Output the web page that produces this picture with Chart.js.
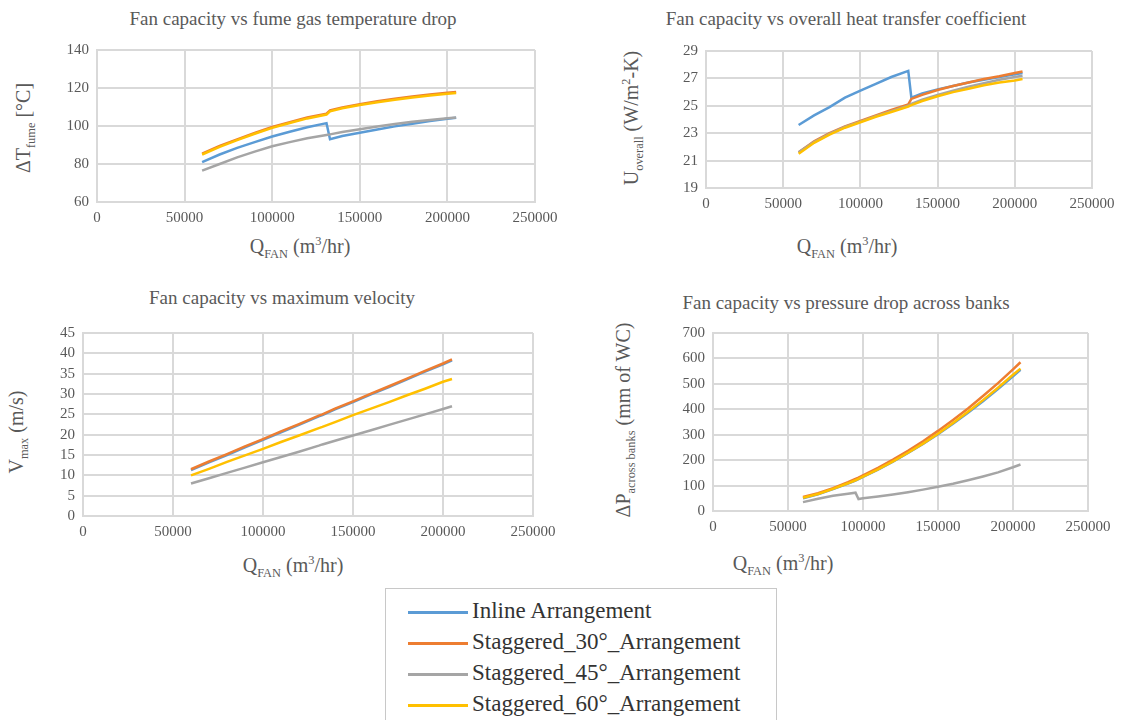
<!DOCTYPE html>
<html>
<head>
<meta charset="utf-8">
<title>Fan capacity charts</title>
<script src="https://cdn.jsdelivr.net/npm/chart.js@4.4.0/dist/chart.umd.min.js"></script>
<style>
    body { margin: 0; width: 1129px; height: 720px; position: relative; overflow: hidden; background: #fff;
           font-family: 'Liberation Serif', 'Times New Roman', serif; }
    canvas { position: absolute; }
    .title, .xlabel, .ylabel { position: absolute; white-space: nowrap; color: #595959; }
    .title { transform: translate(-50%, -50%); font-size: 19px; }
    .xlabel { transform: translate(-50%, -50%); font-size: 20px; }
    .ylabel { transform: translate(-50%, -50%) rotate(-90deg); font-size: 20px; }
    sub, sup { font-size: 62%; }
    #legend { position: absolute; left: 385px; top: 588px; width: 392px; height: 150px;
              border: 1px solid #c8c8c8; box-sizing: border-box; }
    .item { position: absolute; left: 22px; font-size: 23px; color: #333; line-height: 22px; white-space: nowrap; }
    .item span { display: inline-block; width: 60px; height: 3px; vertical-align: middle; margin-right: 4px; }
</style>
</head>
<body>

<div class="title" style="left:293px; top:19px;">Fan capacity vs fume gas temperature drop</div>
<div class="title" style="left:846px; top:19px;">Fan capacity vs overall heat transfer coefficient</div>
<div class="title" style="left:282px; top:298px;">Fan capacity vs maximum velocity</div>
<div class="title" style="left:846px; top:303px;">Fan capacity vs pressure drop across banks</div>

<div class="xlabel" style="left:300px; top:248px;">Q<sub>FAN</sub> (m<sup>3</sup>/hr)</div>
<div class="xlabel" style="left:847px; top:248px;">Q<sub>FAN</sub> (m<sup>3</sup>/hr)</div>
<div class="xlabel" style="left:293px; top:567px;">Q<sub>FAN</sub> (m<sup>3</sup>/hr)</div>
<div class="xlabel" style="left:783px; top:565px;">Q<sub>FAN</sub> (m<sup>3</sup>/hr)</div>

<div class="ylabel" style="left:25px; top:128px;">ΔT<sub>fume</sub> [°C]</div>
<div class="ylabel" style="left:633px; top:118px;">U<sub>overall</sub> (W/m<sup>2</sup>-K)</div>
<div class="ylabel" style="left:18px; top:432px;">V<sub>max</sub> (m/s)</div>
<div class="ylabel" style="left:625px; top:420px;">ΔP<sub>across banks</sub> (mm of WC)</div>

<canvas id="tempChart"></canvas>
<canvas id="uChart"></canvas>
<canvas id="velChart"></canvas>
<canvas id="dpChart"></canvas>

<div id="legend"></div>

<script>
// series names and colours (Excel default palette)
const seriesNames = ['Inline Arrangement', 'Staggered_30°_Arrangement', 'Staggered_45°_Arrangement', 'Staggered_60°_Arrangement'];
const seriesColors = ['#5B9BD5', '#ED7D31', '#A5A5A5', '#FFC000'];

// fan capacity Q_FAN (m3/hr)
const qFan = [60000, 70000, 80000, 90000, 100000, 110000, 120000, 131000, 133000, 140000, 150000, 160000, 170000, 180000, 190000, 200000, 205000];
const qFanDp = [60000, 70000, 80000, 90000, 95000, 97000, 100000, 110000, 120000, 130000, 140000, 150000, 160000, 170000, 180000, 190000, 200000, 205000];

// fume gas temperature drop (°C)
const dtInline = [81, 85, 88.5, 91.5, 94.5, 97, 99.3, 101.5, 93, 94.7, 96.5, 98.2, 99.8, 101.2, 102.6, 103.8, 104.3];
const dt30 = [85.5, 89.5, 93, 96.3, 99.5, 102, 104.5, 106.5, 108.2, 109.8, 111.5, 113, 114.3, 115.5, 116.6, 117.5, 117.9];
const dt45 = [76.5, 80, 83.5, 86.5, 89.3, 91.5, 93.5, 95.3, 95.6, 96.8, 98.3, 99.7, 101, 102.2, 103.2, 104.1, 104.5];
const dt60 = [85, 89, 92.6, 95.9, 99, 101.6, 104, 106, 107.7, 109.3, 111, 112.5, 113.8, 115, 116.1, 117, 117.4];

// overall heat transfer coefficient (W/m2-K)
const uInline = [23.6, 24.3, 24.9, 25.6, 26.1, 26.6, 27.1, 27.55, 25.6, 25.9, 26.2, 26.45, 26.7, 26.9, 27.1, 27.3, 27.4];
const u30 = [21.6, 22.4, 23.0, 23.5, 23.9, 24.3, 24.7, 25.1, 25.5, 25.8, 26.15, 26.45, 26.7, 26.95, 27.15, 27.4, 27.5];
const u45 = [21.6, 22.35, 22.95, 23.45, 23.85, 24.25, 24.6, 25.0, 25.15, 25.45, 25.8, 26.1, 26.4, 26.65, 26.9, 27.1, 27.2];
const u60 = [21.5, 22.3, 22.9, 23.4, 23.8, 24.2, 24.55, 24.95, 25.05, 25.35, 25.7, 26.0, 26.25, 26.5, 26.7, 26.85, 26.95];

// maximum velocity (m/s)
const vInline = [11.3, 13.2, 15.0, 16.9, 18.7, 20.6, 22.4, 24.5, 24.8, 26.2, 28.0, 29.9, 31.7, 33.6, 35.5, 37.3, 38.3];
const v30 = [11.5, 13.4, 15.2, 17.1, 18.9, 20.8, 22.6, 24.7, 25.0, 26.4, 28.2, 30.1, 31.9, 33.8, 35.7, 37.5, 38.5];
const v45 = [8.0, 9.3, 10.6, 11.9, 13.2, 14.5, 15.8, 17.3, 17.6, 18.5, 19.8, 21.1, 22.4, 23.7, 25.0, 26.3, 27.0];
const v60 = [10.0, 11.6, 13.3, 14.9, 16.5, 18.2, 19.8, 21.6, 21.9, 23.1, 24.8, 26.4, 28.0, 29.7, 31.3, 33.0, 33.7];

// pressure drop across banks (mm of WC)
const dpInline = [50, 66, 86, 108, 120, 125, 134, 163, 194, 228, 264, 302, 343, 386, 432, 480, 530, 555];
const dp30 = [55, 70, 90, 113, 126, 131, 140, 170, 202, 237, 274, 315, 358, 403, 452, 503, 557, 585];
const dp45 = [35, 48, 60, 68, 72, 47, 50, 57, 65, 74, 84, 95, 107, 121, 136, 152, 172, 183];
const dp60 = [52, 67, 87, 109, 121, 126, 135, 164, 195, 229, 265, 304, 346, 390, 436, 485, 536, 560];

const PAD_T = 10, PAD_R = 36, AXIS_W = 45, AXIS_H = 30;

document.addEventListener('DOMContentLoaded', function() {
    drawChart('tempChart', {left: 97, top: 43, right: 535, bottom: 202}, 60, 140, 20, qFan, [dtInline, dt30, dt45, dt60]);
    drawChart('uChart', {left: 706, top: 44, right: 1092, bottom: 188}, 19, 29, 2, qFan, [uInline, u30, u45, u60]);
    drawChart('velChart', {left: 83, top: 326, right: 533, bottom: 516}, 0, 45, 5, qFan, [vInline, v30, v45, v60]);
    drawChart('dpChart', {left: 713, top: 326, right: 1088, bottom: 511}, 0, 700, 100, qFanDp, [dpInline, dp30, dp45, dp60]);
    buildLegend();
});

function drawChart(id, box, yMin, yMax, yStep, xs, series) {
    const canvas = document.getElementById(id);
    canvas.width = box.right - box.left + AXIS_W + PAD_R;
    canvas.height = box.bottom - box.top + PAD_T + AXIS_H;
    canvas.style.left = (box.left - AXIS_W) + 'px';
    canvas.style.top = (box.top - PAD_T) + 'px';

    const tickFont = {family: "'Liberation Serif', 'Times New Roman', serif", size: 15};
    const grid = {color: '#d9d9d9', lineWidth: 2, drawTicks: false};
    const border = {color: '#d9d9d9', width: 2};

    new Chart(canvas.getContext('2d'), {
        type: 'line',
        data: {
            datasets: series.map((vals, i) => ({
                label: seriesNames[i],
                data: xs.map((x, j) => ({x: x, y: vals[j]})),
                borderColor: seriesColors[i],
                backgroundColor: seriesColors[i],
                borderWidth: 2.5,
                pointRadius: 0,
                tension: 0,
                order: 3 - i
            }))
        },
        options: {
            responsive: false,
            animation: false,
            layout: {padding: {top: PAD_T, right: PAD_R, left: 0, bottom: 0}},
            plugins: {legend: {display: false}, tooltip: {enabled: false}},
            scales: {
                x: {
                    type: 'linear', min: 0, max: 250000,
                    ticks: {stepSize: 50000, autoSkip: false, maxRotation: 0, padding: 7,
                            color: '#595959', font: tickFont, callback: v => String(v)},
                    grid: grid, border: border,
                    afterFit: scale => { scale.height = AXIS_H; }
                },
                y: {
                    min: yMin, max: yMax,
                    ticks: {stepSize: yStep, autoSkip: false, padding: 8, color: '#595959', font: tickFont,
                            callback: v => String(v)},
                    grid: grid, border: border,
                    afterFit: scale => { scale.width = AXIS_W; }
                }
            }
        }
    });
}

function buildLegend() {
    const legend = document.getElementById('legend');
    seriesNames.forEach((name, i) => {
        const div = document.createElement('div');
        div.className = 'item';
        div.style.top = (11 + i * 31) + 'px';
        div.innerHTML = `<span style="background:${seriesColors[i]}"></span>${name}`;
        legend.appendChild(div);
    });
}
</script>
</body>
</html>
